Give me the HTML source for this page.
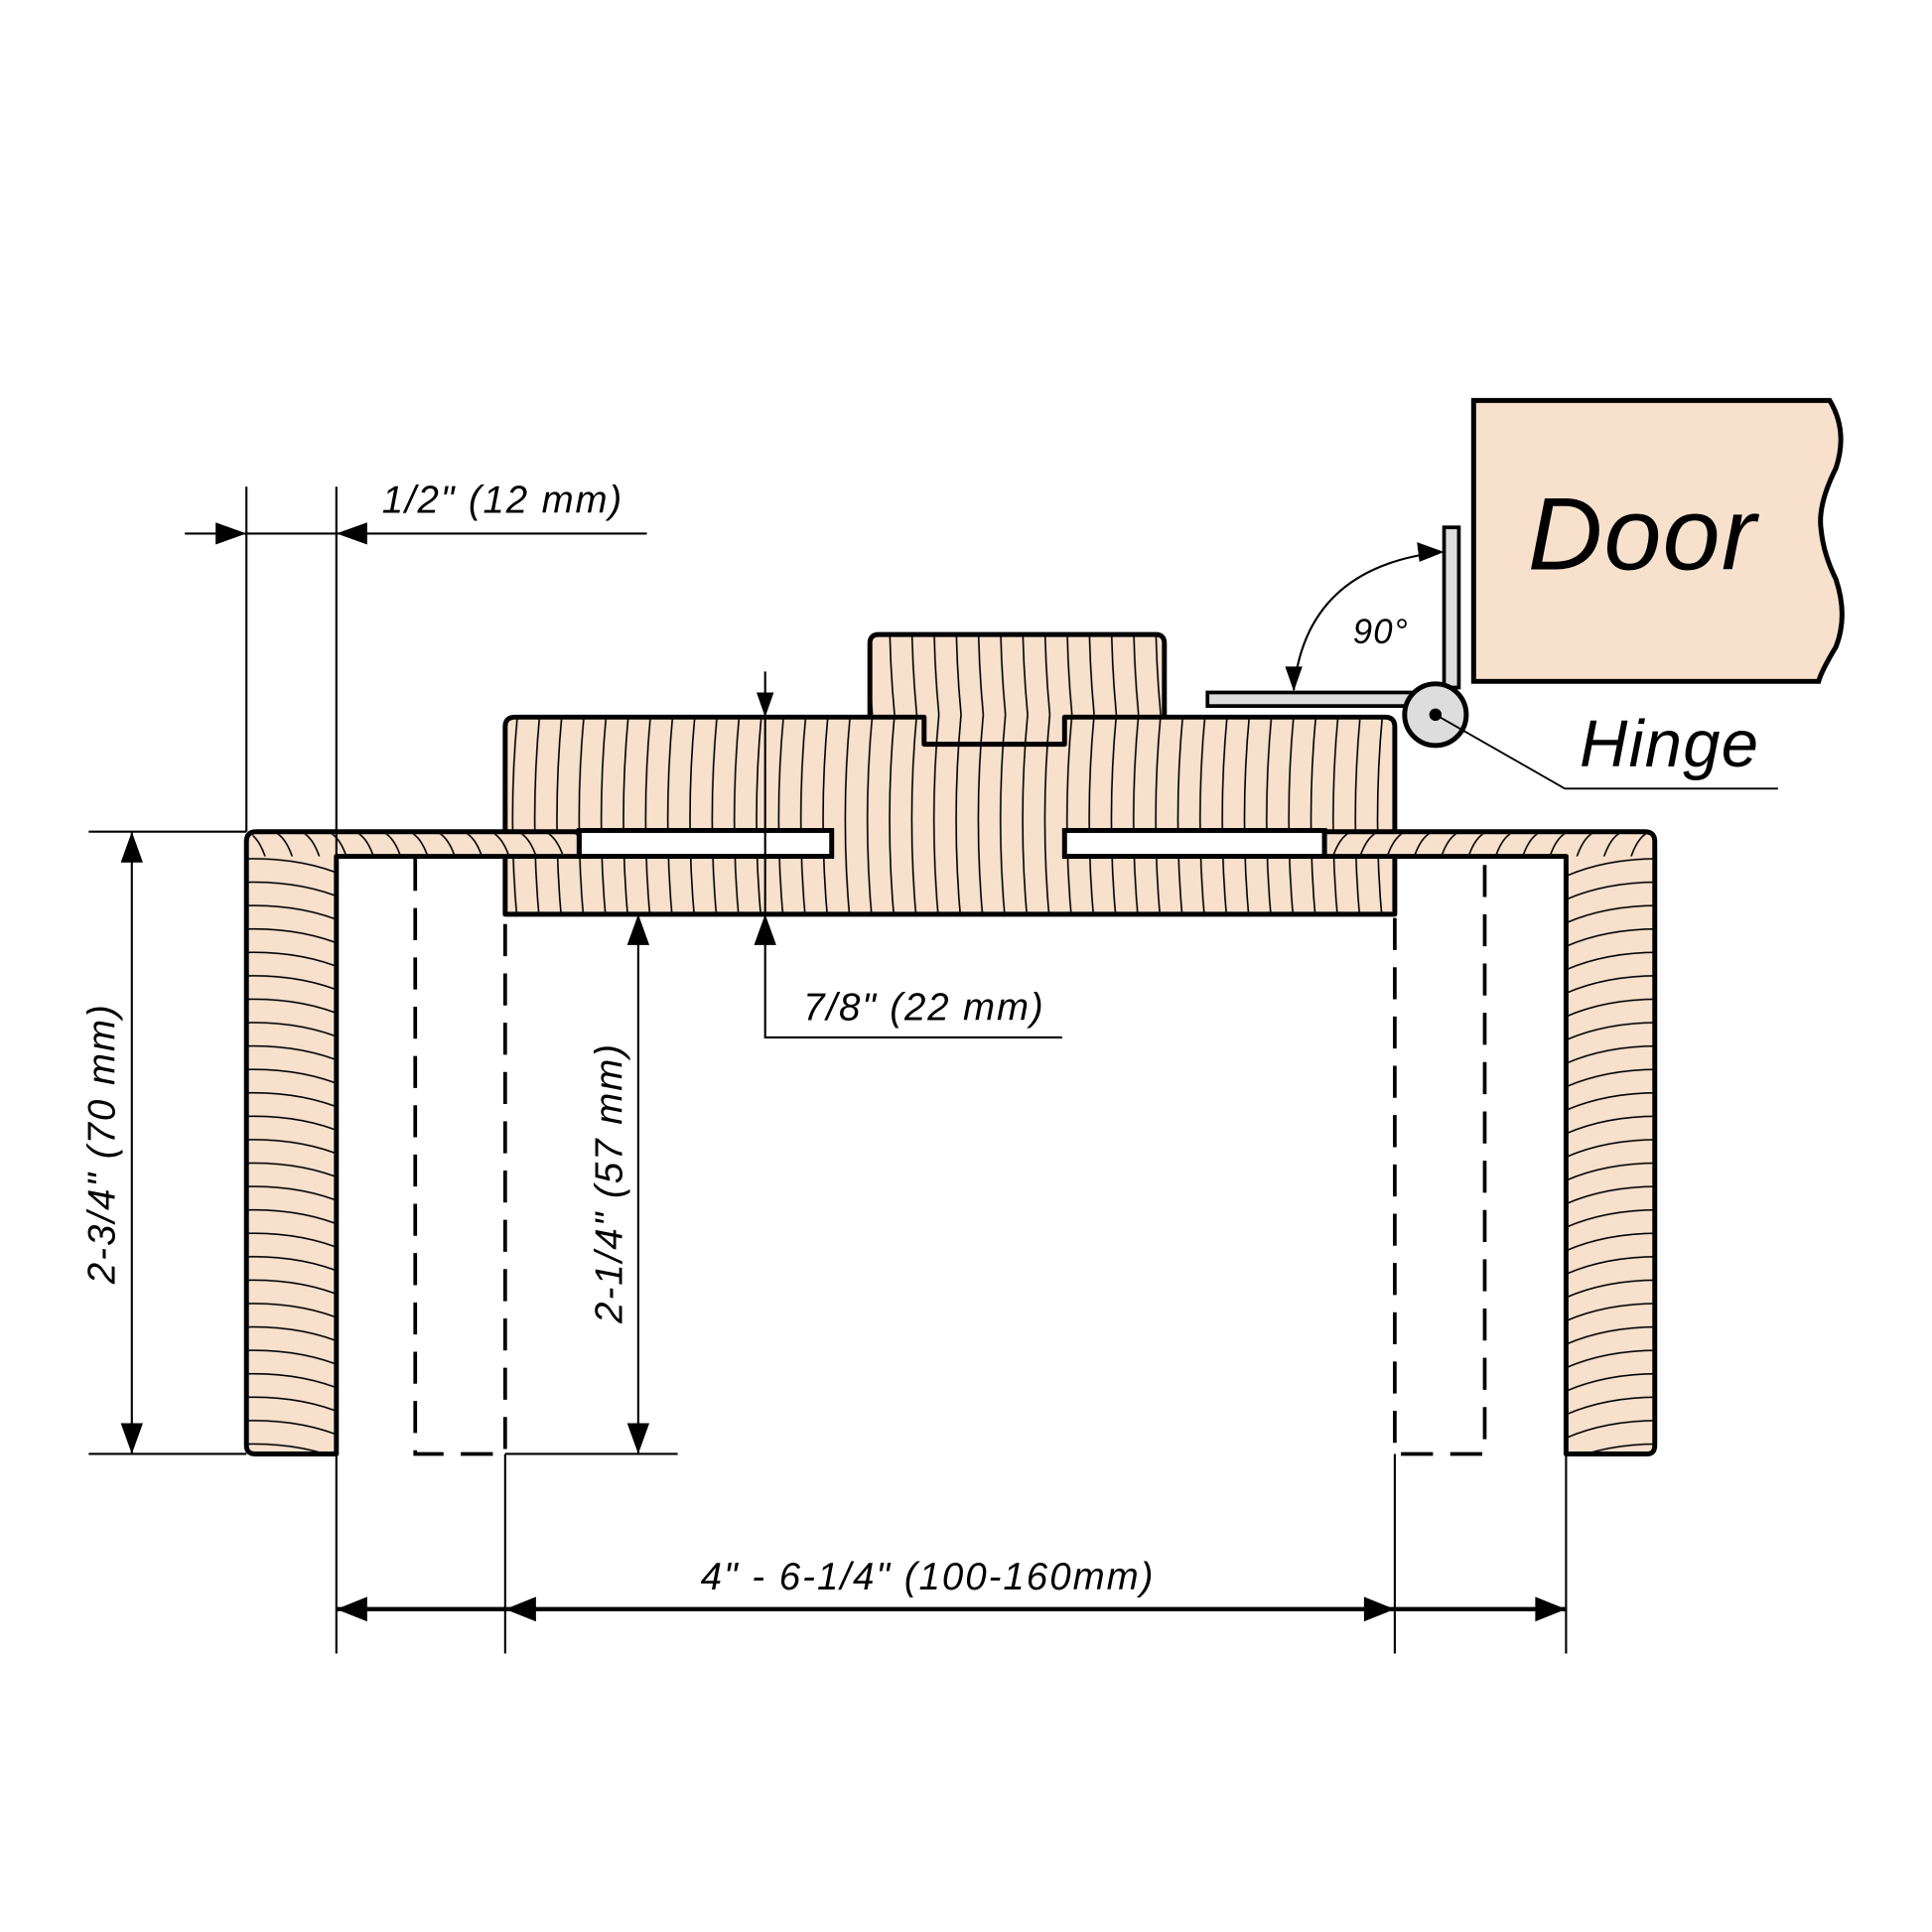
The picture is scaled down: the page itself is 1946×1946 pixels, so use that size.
<!DOCTYPE html>
<html><head><style>html,body{margin:0;padding:0;background:#fff}svg{display:block}</style></head>
<body>
<svg width="1946" height="1946" viewBox="0 0 1568 1568" xmlns="http://www.w3.org/2000/svg" font-family="Liberation Sans, sans-serif" font-style="italic">
<defs>
<pattern id="gv" width="18" height="170" patternUnits="userSpaceOnUse" x="410" y="580">
<path d="M10,0 Q2,85 10,170" fill="none" stroke="#000" stroke-width="1.3"/>
</pattern>
<pattern id="gh" width="80" height="19" patternUnits="userSpaceOnUse" x="200" y="675">
<path d="M0,3 Q45,2 80,17" fill="none" stroke="#000" stroke-width="1.3"/>
</pattern>
<pattern id="ghr" width="80" height="19" patternUnits="userSpaceOnUse" x="1271" y="675">
<path d="M80,3 Q35,2 0,17" fill="none" stroke="#000" stroke-width="1.3"/>
</pattern>
<pattern id="gs" width="22" height="40" patternUnits="userSpaceOnUse" x="200" y="675">
<path d="M0,0 Q14,5 20,40" fill="none" stroke="#000" stroke-width="1.3"/>
</pattern>
<pattern id="gsr" width="22" height="40" patternUnits="userSpaceOnUse" x="1075" y="675">
<path d="M22,0 Q8,5 2,40" fill="none" stroke="#000" stroke-width="1.3"/>
</pattern>
</defs>
<g fill="#f7e1cd">
<path d="M706,582 V522 Q706,515 713,515 H938 Q945,515 945,522 V582 H864 V604 H750 V582 Z"/>
<path d="M706,582 V522 Q706,515 713,515 H938 Q945,515 945,522 V582 H864 V604 H750 V582 Z" fill="url(#gv)"/>
<path d="M410,742 V590 Q410,582 418,582 H750 V604 H864 V582 H1124 Q1132,582 1132,590 V742 Z"/>
<path d="M410,742 V590 Q410,582 418,582 H750 V604 H864 V582 H1124 Q1132,582 1132,590 V742 Z" fill="url(#gv)"/>
</g>
<g fill="none" stroke="#000" stroke-width="4" stroke-linejoin="round">
<path d="M706,582 V522 Q706,515 713,515 H938 Q945,515 945,522 V582"/>
<path d="M410,742 V590 Q410,582 418,582 H750 V604 H864 V582 H1124 Q1132,582 1132,590 V742 Z"/>
</g>
<!-- slots -->
<rect x="470" y="674" width="205" height="21" fill="#fff" stroke="#000" stroke-width="4"/>
<rect x="864" y="674" width="211" height="21" fill="#fff" stroke="#000" stroke-width="4"/>
<g fill="#f7e1cd">
<path d="M273,1180 H207 Q200,1180 200,1173 V683 Q200,675 208,675 H470 V695 H273 Z"/>
<rect x="200" y="695" width="73" height="485" fill="url(#gh)"/>
<rect x="205" y="677" width="265" height="18" fill="url(#gs)"/>
<path d="M1271,1180 H1337 Q1343,1180 1343,1173 V683 Q1343,675 1335,675 H1075 V695 H1271 Z"/>
<rect x="1271" y="695" width="72" height="485" fill="url(#ghr)"/>
<rect x="1075" y="677" width="265" height="18" fill="url(#gsr)"/>
</g>
<g fill="none" stroke="#000" stroke-width="4" stroke-linejoin="round">
<path d="M273,1180 H207 Q200,1180 200,1173 V683 Q200,675 208,675 H470 V695 H273 Z"/>
<path d="M1271,1180 H1337 Q1343,1180 1343,1173 V683 Q1343,675 1335,675 H1075 V695 H1271 Z"/>
</g>
<!-- dashed -->
<g stroke="#000" stroke-width="3" stroke-dasharray="26,14" fill="none">
<path d="M337,697 V1180 H410 V745"/>
<path d="M1132,745 V1180 H1205 V697"/>
</g>
<!-- hinge -->
<rect x="980" y="562" width="172" height="11" fill="#ddd" stroke="#000" stroke-width="3"/>
<rect x="1172" y="428" width="12" height="130" fill="#ddd" stroke="#000" stroke-width="3"/>
<circle cx="1165" cy="580" r="25" fill="#ddd" stroke="#000" stroke-width="4"/>
<circle cx="1165" cy="580" r="5" fill="#000"/>
<path d="M1165,580 L1270,640 H1443" fill="none" stroke="#000" stroke-width="1.5"/>
<!-- door -->
<path d="M1196,325 H1485 Q1500,350 1490,380 Q1475,410 1478,430 Q1480,450 1490,470 Q1500,500 1490,525 Q1478,545 1476,553 H1196 Z" fill="#f7e1cd" stroke="#000" stroke-width="4"/>
<!-- dimension lines -->
<g stroke="#000" stroke-width="1.7" fill="none">
<path d="M200,395 V675 M273,395 V1342 M150,433 H525"/>
<path d="M72,675 H200 M72,1180 H200 M107,675 V1180"/>
<path d="M518,742 V1180 M410,1180 H550"/>
<path d="M621,545 V742 M621,742 V842 H862"/>
<path d="M410,1180 V1342 M1132,1180 V1342 M1271,1180 V1342"/>
<path d="M1050,560 Q1060,460 1170,448"/>
</g>
<path d="M273,1306 H1271" stroke="#000" stroke-width="3.5"/>
<g fill="#000">
<path d="M200,433 l-25,-9 v18 Z"/>
<path d="M273,433 l25,-9 v18 Z"/>
<path d="M107,675 l-9,25 h18 Z"/>
<path d="M107,1180 l-9,-25 h18 Z"/>
<path d="M518,742 l-9,25 h18 Z"/>
<path d="M518,1180 l-9,-25 h18 Z"/>
<path d="M621,582 l-7,-20 h14 Z"/>
<path d="M621,742 l-9,25 h18 Z"/>
<path d="M273,1306 l25,-10 v20 Z"/>
<path d="M410,1306 l25,-10 v20 Z"/>
<path d="M1132,1306 l-25,-10 v20 Z"/>
<path d="M1271,1306 l-25,-10 v20 Z"/>
<path d="M1050,561 l-7,-20 h14 Z"/>
<path d="M1172,448 l-22,-8 l2,16 Z"/>
</g>
<!-- text -->
<g fill="#000">
<text x="310" y="416" font-size="31" letter-spacing="1.5">1/2"  (12 mm)</text>
<text x="652" y="828" font-size="31" letter-spacing="1.5">7/8" (22 mm)</text>
<text x="753" y="1290" font-size="31" letter-spacing="1.6" text-anchor="middle">4" - 6-1/4" (100-160mm)</text>
<text x="1098" y="522" font-size="28" letter-spacing="1">90°</text>
<text x="1282" y="622" font-size="54" letter-spacing="1">Hinge</text>
<text x="1240" y="462" font-size="84" letter-spacing="1">Door</text>
<text transform="translate(93,928) rotate(-90)" font-size="31" letter-spacing="1.6" text-anchor="middle">2-3/4" (70 mm)</text>
<text transform="translate(505,960) rotate(-90)" font-size="31" letter-spacing="1.6" text-anchor="middle">2-1/4" (57 mm)</text>
</g>
</svg>
</body></html>
